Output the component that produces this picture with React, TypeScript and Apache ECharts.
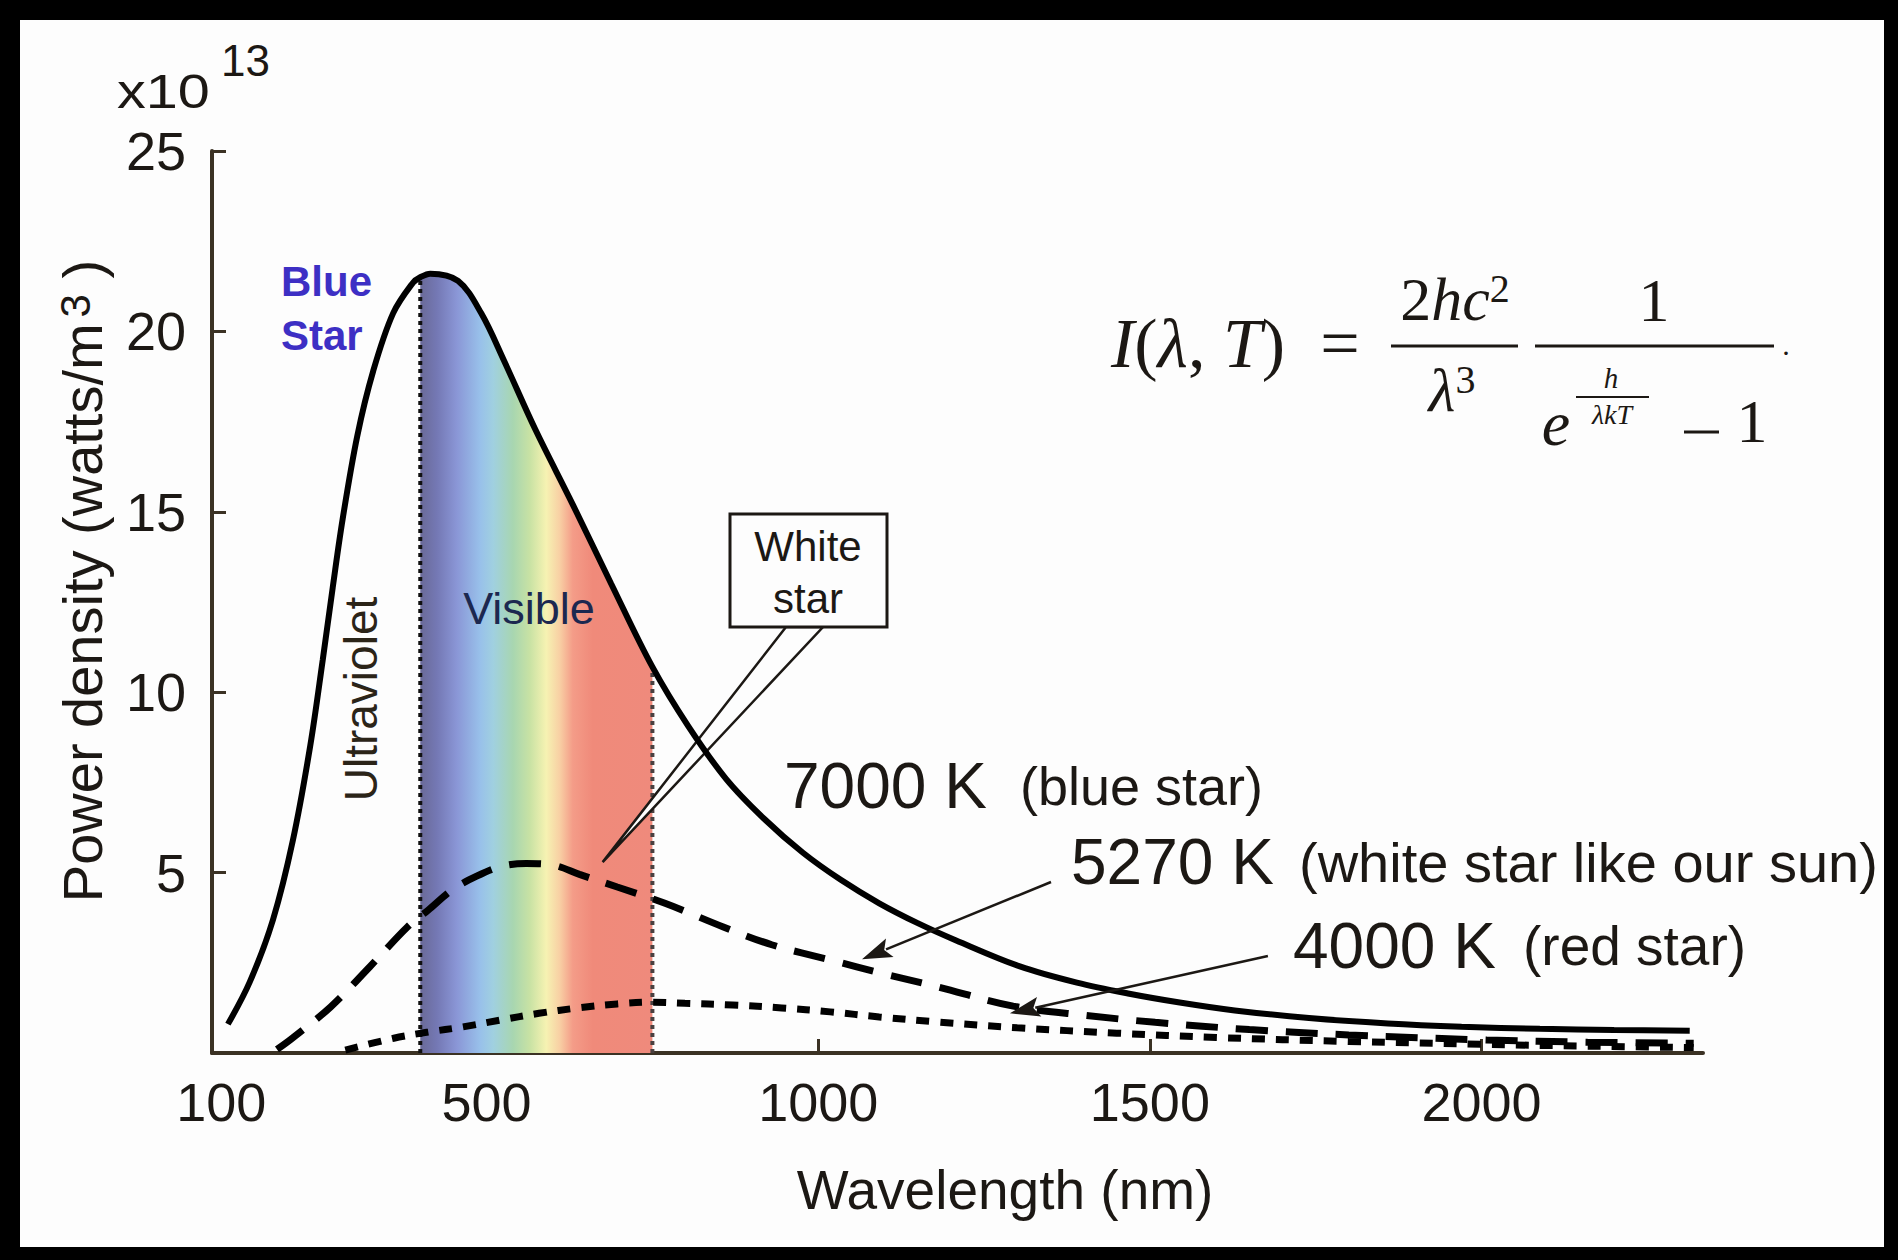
import React, { useEffect, useRef } from 'react';
import * as echarts from 'echarts';

// ---- data (wavelength nm, power density ×10^13 W/m^3)
const WL_7000 = [110, 143, 178, 208, 234, 253, 268, 283, 305, 329, 359, 389, 400, 415, 457, 492, 526, 573, 630, 688, 750, 804, 861, 918, 977, 1034, 1092, 1150, 1208, 1304, 1390, 1467, 1545, 1628, 1740, 1859, 1970, 2088, 2200, 2314];
const PD_7000 = [0.8, 1.97, 3.7, 5.9, 8.5, 10.9, 12.9, 14.8, 17.1, 18.9, 20.5, 21.35, 21.5, 21.6, 21.4, 20.5, 19.2, 17.3, 15.2, 13.0, 10.7, 9.06, 7.6, 6.5, 5.55, 4.8, 4.15, 3.6, 3.12, 2.4, 1.95, 1.65, 1.4, 1.18, 0.97, 0.82, 0.73, 0.67, 0.64, 0.62];

const WL_5270 = [184, 207, 265, 324, 381, 412, 448, 485, 522, 560, 602, 640, 697, 769, 856, 930, 1018, 1098, 1179, 1294, 1400, 1508, 1650, 1800, 2008, 2160, 2320];
const PD_5270 = [0.1, 0.41, 1.28, 2.39, 3.5, 3.96, 4.52, 4.9, 5.17, 5.25, 5.2, 4.95, 4.6, 4.15, 3.5, 3.0, 2.58, 2.2, 1.84, 1.3, 1.05, 0.85, 0.65, 0.5, 0.36, 0.3, 0.27];

const WL_4000 = [287, 360, 412, 463, 520, 579, 638, 697, 748, 799, 871, 945, 1018, 1092, 1179, 1300, 1450, 1600, 1800, 2000, 2160, 2320];
const PD_4000 = [0.08, 0.41, 0.58, 0.72, 0.91, 1.1, 1.25, 1.36, 1.41, 1.38, 1.33, 1.25, 1.14, 1.0, 0.86, 0.7, 0.55, 0.43, 0.32, 0.24, 0.19, 0.15];

const X_LABELS = [100, 500, 1000, 1500, 2000];
const X_TICKS = [500, 1000, 1500, 2000];
const Y_TICKS = [5, 10, 15, 20, 25];
const VISIBLE_FROM = 400;
const VISIBLE_TO = 750;

// annotation anchors in data units [wavelength, density]
const WHITE_STAR_TIP = [675, 5.29];
const ARROW_5270 = [[1351, 4.74], [1066, 2.6]];
const ARROW_4000 = [[1678, 2.69], [1289, 1.1]];

const SPECTRUM_WL = [400, 425, 455, 490, 510, 540, 565, 590, 610, 630, 660, 750];
const SPECTRUM_COLORS = ['#6a6a98', '#7478b4', '#8a96d6', '#98c0ea', '#a0d0e0', '#a8d6b0', '#c8e2a4', '#f6f2b2', '#f8d0a4', '#f49c88', '#f08a7a', '#ef8a7c'];

const SANS = '"Liberation Sans", Arial, Helvetica, sans-serif';
const SERIF = '"Liberation Serif", "Times New Roman", serif';
const AXIS_COLOR = '#3b3224';
const INK = '#1c1814';

const pairs = (xs: number[], ys: number[]) => xs.map((x, i) => [x, ys[i]]);

function txt(x: number, y: number, text: string, fontSize: number, o: any = {}) {
  return {
    type: 'text',
    x,
    y,
    z: o.z ?? 50,
    rotation: o.rotation ?? 0,
    scaleX: o.scaleX ?? 1,
    silent: true,
    style: {
      text,
      x: 0,
      y: 0,
      fill: o.fill ?? INK,
      fontSize,
      fontFamily: o.family ?? SANS,
      fontStyle: o.italic ? 'italic' : 'normal',
      fontWeight: o.weight ?? 'normal',
      align: o.align ?? 'left',
      textAlign: o.align ?? 'left',
      verticalAlign: 'middle',
      textVerticalAlign: 'middle',
      rich: o.rich,
    },
  };
}

function arrow(p0: number[], p1: number[], headLen: number, headW: number, lw: number) {
  const dx = p1[0] - p0[0];
  const dy = p1[1] - p0[1];
  const L = Math.hypot(dx, dy);
  const ux = dx / L;
  const uy = dy / L;
  const bx = p1[0] - ux * headLen;
  const by = p1[1] - uy * headLen;
  const nx = -uy;
  const ny = ux;
  return [
    { type: 'line', z: 40, silent: true, shape: { x1: p0[0], y1: p0[1], x2: bx + ux * 4, y2: by + uy * 4 }, style: { stroke: INK, lineWidth: lw } },
    {
      type: 'polygon',
      z: 40,
      silent: true,
      shape: { points: [[p1[0], p1[1]], [bx + (nx * headW) / 2, by + (ny * headW) / 2], [bx + ux * 6, by + uy * 6], [bx - (nx * headW) / 2, by - (ny * headW) / 2]] },
      style: { fill: INK },
    },
  ];
}

export default function App() {
  const ref = useRef<HTMLDivElement>(null);

  useEffect(() => {
    if (!ref.current) return;
    const chart = echarts.init(ref.current, null, { renderer: 'svg' });

    const s7000 = pairs(WL_7000, PD_7000);
    const s5270 = pairs(WL_5270, PD_5270);
    const s4000 = pairs(WL_4000, PD_4000);
    const visible = s7000.filter((p) => p[0] >= VISIBLE_FROM && p[0] <= VISIBLE_TO);
    const topFrom = PD_7000[WL_7000.indexOf(VISIBLE_FROM)];
    const topTo = PD_7000[WL_7000.indexOf(VISIBLE_TO)];

    const stops = SPECTRUM_WL.map((w, i) => ({
      offset: (w - VISIBLE_FROM) / (VISIBLE_TO - VISIBLE_FROM),
      color: SPECTRUM_COLORS[i],
    }));

    const axisLine = { show: true, onZero: false, lineStyle: { color: AXIS_COLOR, width: 4 } };

    chart.setOption({
      animation: false,
      backgroundColor: '#fdfdfd',
      grid: { left: 212, top: 151, right: 195, bottom: 207, containLabel: false },
      xAxis: {
        type: 'value',
        min: 86,
        max: 2334,
        axisLine,
        axisTick: { show: true, inside: true, length: 14, customValues: X_TICKS, lineStyle: { color: AXIS_COLOR, width: 3 } },
        axisLabel: { customValues: X_LABELS, fontSize: 54, fontFamily: SANS, color: INK, margin: 22, formatter: (v: number) => String(v) },
        splitLine: { show: false },
      },
      yAxis: {
        type: 'value',
        min: 0,
        max: 25,
        interval: 5,
        axisLine,
        axisTick: { show: true, inside: true, length: 14, customValues: Y_TICKS, lineStyle: { color: AXIS_COLOR, width: 3 } },
        axisLabel: { customValues: Y_TICKS, fontSize: 54, fontFamily: SANS, color: INK, margin: 26, formatter: (v: number) => String(v) },
        splitLine: { show: false },
      },
      series: [
        {
          type: 'line',
          name: 'Visible',
          data: visible,
          smooth: 0.35,
          symbol: 'none',
          silent: true,
          lineStyle: { width: 0 },
          areaStyle: { opacity: 1, color: new echarts.graphic.LinearGradient(0, 0, 1, 0, stops) },
          z: 1,
        },
        {
          type: 'line',
          data: [[VISIBLE_FROM, 0], [VISIBLE_FROM, topFrom]],
          symbol: 'none',
          silent: true,
          lineStyle: { color: '#111', width: 4, type: [4, 4] },
          z: 2,
        },
        {
          type: 'line',
          data: [[VISIBLE_TO, 0], [VISIBLE_TO, topTo]],
          symbol: 'none',
          silent: true,
          lineStyle: { color: '#4a4040', width: 4, type: [4, 4] },
          z: 2,
        },
        {
          type: 'line',
          name: '4000 K',
          data: s4000,
          smooth: 0.35,
          symbol: 'none',
          lineStyle: { color: '#000', width: 7, type: [13, 11], cap: 'butt' },
          z: 4,
        },
        {
          type: 'line',
          name: '5270 K',
          data: s5270,
          smooth: 0.35,
          symbol: 'none',
          lineStyle: { color: '#000', width: 7, type: [32, 18], cap: 'butt' },
          z: 4,
        },
        {
          type: 'line',
          name: '7000 K',
          data: s7000,
          smooth: 0.35,
          symbol: 'none',
          lineStyle: { color: '#000', width: 6 },
          z: 5,
        },
      ],
    });

    const px = (p: number[]) => chart.convertToPixel({ gridIndex: 0 }, p) as number[];
    const tip = px(WHITE_STAR_TIP);

    const serifRich = (size: number, supSize: number) => ({
      r: { fontSize: size, fontFamily: SERIF, fill: INK },
      i: { fontSize: size, fontFamily: SERIF, fontStyle: 'italic', fill: INK },
      s: { fontSize: supSize, fontFamily: SERIF, fill: INK, verticalAlign: 'top' },
    });

    const graphic: any[] = [
      // callout wedge + box
      {
        type: 'polygon',
        z: 3,
        silent: true,
        shape: { points: [tip, [786, 627], [823, 627]] },
        style: { fill: '#fdfdfd', stroke: INK, lineWidth: 2.5 },
      },
      { type: 'rect', z: 45, silent: true, shape: { x: 730, y: 514, width: 157, height: 113 }, style: { fill: '#fdfdfd', stroke: INK, lineWidth: 3 } },
      txt(808, 546, 'White', 42, { align: 'center' }),
      txt(808, 598, 'star', 42, { align: 'center' }),

      // curve labels
      txt(784, 786, '7000 K', 64),
      txt(1020, 786, '(blue star)', 54),
      txt(1071, 862, '5270 K', 64),
      txt(1299, 862, '(white star like our sun)', 56),
      txt(1293, 946, '4000 K', 64),
      txt(1523, 946, '(red star)', 55),
      ...arrow(px(ARROW_5270[0]), px(ARROW_5270[1]), 30, 20, 2.5),
      ...arrow(px(ARROW_4000[0]), px(ARROW_4000[1]), 30, 20, 2.5),

      // region labels
      txt(281, 281, 'Blue', 42, { fill: '#3d2fc4', weight: 'bold' }),
      txt(281, 335, 'Star', 42, { fill: '#3d2fc4', weight: 'bold' }),
      txt(361, 699, 'Ultraviolet', 46, { align: 'center', rotation: Math.PI / 2, fill: '#2b2418' }),
      txt(529, 608, 'Visible', 45, { align: 'center', fill: '#1c2850' }),

      // axis decorations
      txt(117, 91, 'x10', 48, { scaleX: 1.2 }),
      txt(221, 60, '13', 44),
      txt(82, 581, '{a|Power density (watts/m}{s|3}{a| )}', 56, {
        align: 'center',
        rotation: Math.PI / 2,
        rich: {
          a: { fontSize: 56, fontFamily: SANS, fill: INK },
          s: { fontSize: 42, fontFamily: SANS, fill: INK, verticalAlign: 'top', padding: [0, 0, 14, 6] },
        },
      }),
      txt(1005, 1190, 'Wavelength (nm)', 55, { align: 'center' }),

      // formula
      txt(1111, 343, '{i|I}{r|(}{i|λ}{r|, }{i|T}{r|)}', 70, { family: SERIF, rich: serifRich(70, 46) }),
      txt(1340, 343, '=', 70, { family: SERIF, align: 'center' }),
      txt(1455, 299, '{r|2}{i|hc}{s|2}', 62, { family: SERIF, align: 'center', rich: serifRich(62, 40) }),
      { type: 'line', z: 50, silent: true, shape: { x1: 1391, y1: 346, x2: 1518, y2: 346 }, style: { stroke: INK, lineWidth: 3 } },
      txt(1452, 390, '{i|λ}{s|3}', 62, { family: SERIF, align: 'center', rich: serifRich(62, 40) }),
      txt(1654, 300, '1', 62, { family: SERIF, align: 'center' }),
      { type: 'line', z: 50, silent: true, shape: { x1: 1535, y1: 346, x2: 1774, y2: 346 }, style: { stroke: INK, lineWidth: 3 } },
      txt(1556, 423, 'e', 64, { family: SERIF, italic: true, align: 'center' }),
      txt(1611, 378, 'h', 29, { family: SERIF, italic: true, align: 'center' }),
      { type: 'line', z: 50, silent: true, shape: { x1: 1576, y1: 397, x2: 1649, y2: 397 }, style: { stroke: INK, lineWidth: 2 } },
      txt(1612, 414, 'λkT', 28, { family: SERIF, italic: true, align: 'center' }),
      { type: 'line', z: 50, silent: true, shape: { x1: 1684, y1: 432, x2: 1719, y2: 432 }, style: { stroke: INK, lineWidth: 3 } },
      txt(1752, 421, '1', 62, { family: SERIF, align: 'center' }),
      txt(1786, 344, '.', 30, { family: SERIF, align: 'center' }),

      // black frame
      { type: 'rect', z: 100, silent: true, shape: { x: 0, y: 0, width: 1898, height: 20 }, style: { fill: '#000' } },
      { type: 'rect', z: 100, silent: true, shape: { x: 0, y: 0, width: 20, height: 1260 }, style: { fill: '#000' } },
      { type: 'rect', z: 100, silent: true, shape: { x: 1884, y: 0, width: 14, height: 1260 }, style: { fill: '#000' } },
      { type: 'rect', z: 100, silent: true, shape: { x: 0, y: 1247, width: 1898, height: 13 }, style: { fill: '#000' } },
    ];

    chart.setOption({ graphic });

    return () => chart.dispose();
  }, []);

  return <div ref={ref} style={{ position: 'fixed', left: 0, top: 0, width: 1898, height: 1260 }} />;
}
